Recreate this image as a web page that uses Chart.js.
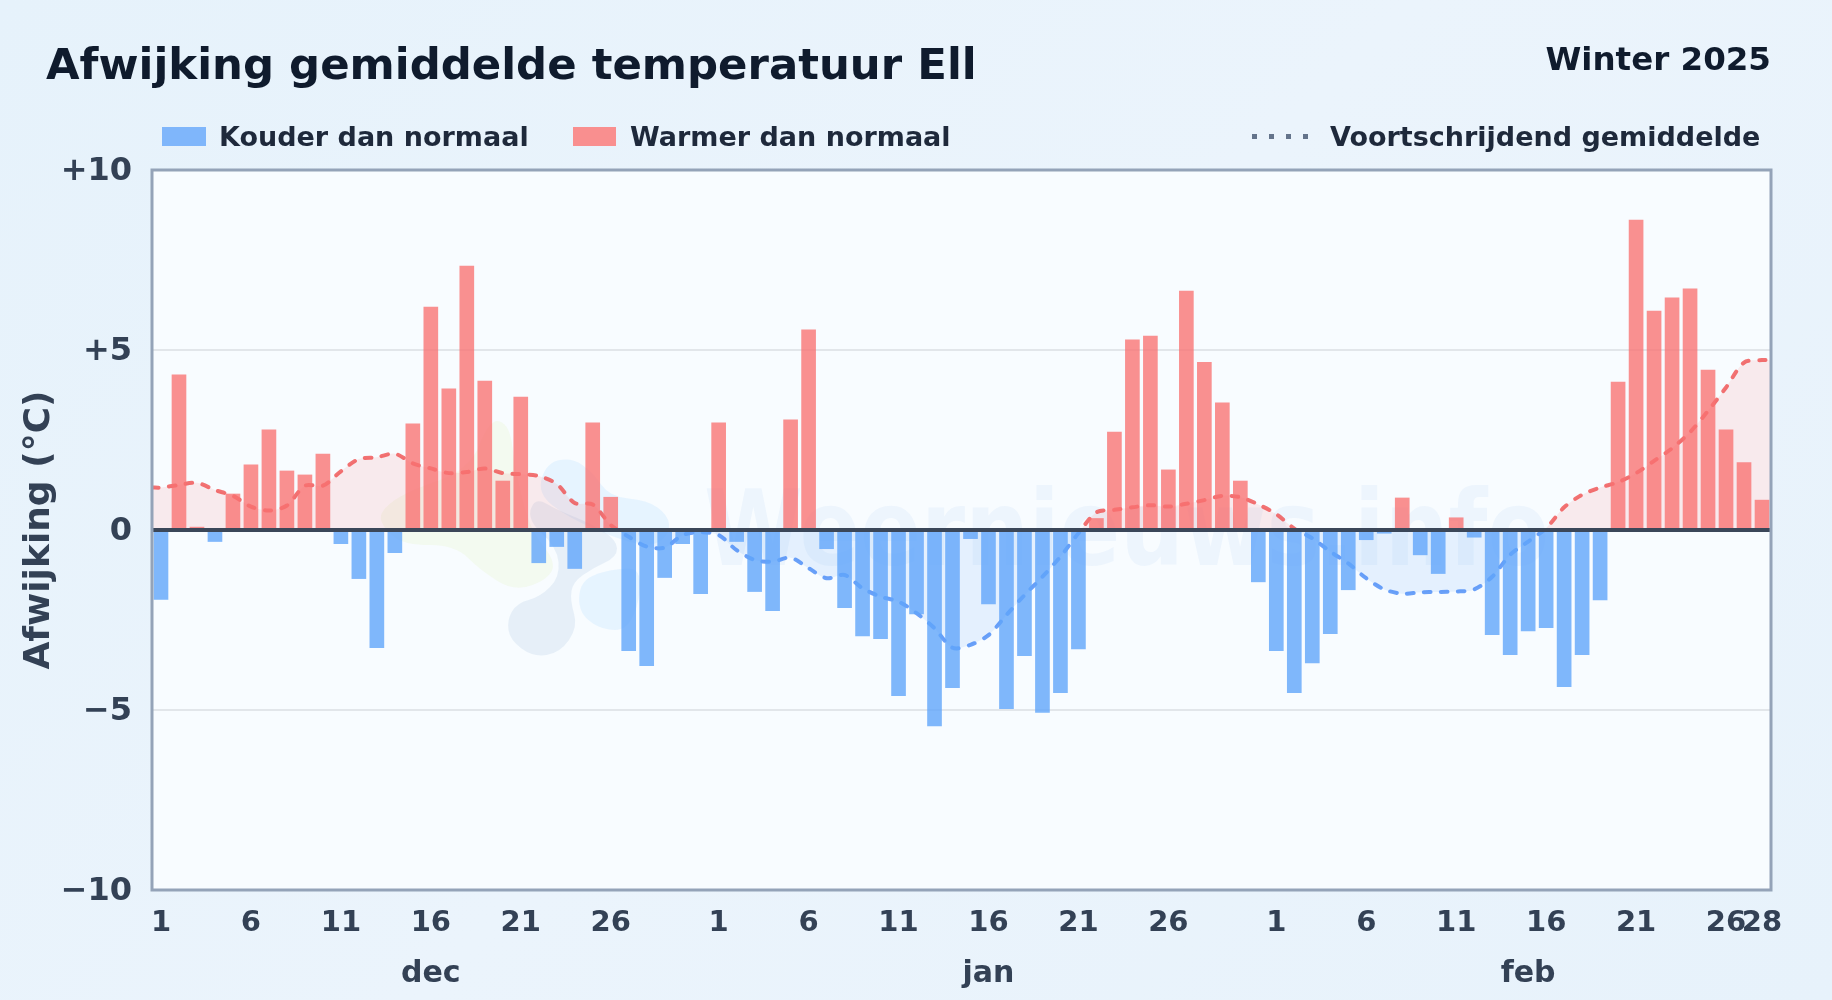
<!DOCTYPE html>
<html>
<head>
<meta charset="utf-8">
<title>Afwijking gemiddelde temperatuur Ell</title>
<script src="https://cdn.jsdelivr.net/npm/chart.js@4/dist/chart.umd.min.js"></script>
<style>
html, body { margin: 0; padding: 0; }
body {
    width: 1832px; height: 1000px; overflow: hidden; position: relative;
    background: linear-gradient(135deg, #e6f2fb 0%, #ebf4fc 50%, #e7f2fb 100%);
    font-family: "DejaVu Sans", sans-serif; font-weight: bold;
}
canvas { position: absolute; left: 0; top: 0; }
.txt { position: absolute; white-space: nowrap; line-height: 1; }
#title { left: 46px; top: 43px; font-size: 43.4px; color: #0f1b2d; }
#season { right: 61px; top: 43px; font-size: 32.5px; color: #0f1b2d; }
.lg { top: 123px; font-size: 27px; color: #1e293b; }
.swatch { position: absolute; top: 127px; height: 19px; }
#dots { position: absolute; left: 1252px; top: 134px; width: 57px; height: 5px;
    background: repeating-linear-gradient(90deg, #64748b 0 5px, transparent 5px 17px); }
</style>
</head>
<body>
<canvas id="afwijkingChart" width="1832" height="1000"></canvas>
<div class="txt" id="title">Afwijking gemiddelde temperatuur Ell</div>
<div class="txt" id="season">Winter 2025</div>
<div class="swatch" style="left:162px;width:44px;background:#7fb6fb"></div>
<div class="txt lg" style="left:219px">Kouder dan normaal</div>
<div class="swatch" style="left:573px;width:43px;background:#f98f8f"></div>
<div class="txt lg" style="left:630px">Warmer dan normaal</div>
<div id="dots"></div>
<div class="txt lg" style="left:1330px">Voortschrijdend gemiddelde</div>
<script>
// afwijking per dag, 1 dec t/m 28 feb
const decValues = [-1.93, 4.31, 0.08, -0.32, 1.0, 1.81, 2.78, 1.64, 1.53, 2.11, -0.38, -1.35, -3.27, -0.63, 2.95, 6.19,
    3.92, 7.33, 4.14, 1.36, 3.69, -0.91, -0.46, -1.07, 2.98, 0.91, -3.35, -3.77, -1.32, -0.38, -1.77];
const janValues = [2.98, -0.32, -1.71, -2.24, 3.06, 5.56, -0.52, -2.16, -2.94, -3.02, -4.6, -2.33, -5.44, -4.38, -0.24, -2.05,
    -4.96, -3.49, -5.07, -4.52, -3.3, 0.32, 2.72, 5.28, 5.39, 1.67, 6.64, 4.66, 3.53, 1.36, -1.44];
const febValues = [-3.35, -4.52, -3.69, -2.88, -1.66, -0.27, -0.09, 0.89, -0.69, -1.21, 0.34, -0.2, -2.91, -3.46,
    -2.8, -2.71, -4.35, -3.46, -1.94, 4.11, 8.61, 6.08, 6.45, 6.7, 4.44, 2.78, 1.87, 0.83];

// voortschrijdend gemiddelde
const decAvg = [1.18, 1.25, 1.31, 1.11, 0.95, 0.65, 0.54, 0.68, 1.23, 1.23, 1.63, 1.97, 2.02, 2.12, 1.85, 1.71,
    1.58, 1.61, 1.71, 1.58, 1.55, 1.5, 1.28, 0.75, 0.71, 0.14, -0.19, -0.46, -0.49, -0.14, -0.06];
const janAvg = [-0.14, -0.56, -0.83, -0.88, -0.77, -1.06, -1.34, -1.25, -1.62, -1.85, -1.99, -2.31, -2.73, -3.27, -3.19, -2.92,
    -2.36, -1.81, -1.3, -0.74, -0.09, 0.49, 0.56, 0.63, 0.69, 0.65, 0.73, 0.83, 0.95, 0.91, 0.71];
const febAvg = [0.44, 0.04, -0.23, -0.6, -0.93, -1.34, -1.65, -1.77, -1.73, -1.72, -1.71, -1.65, -1.3, -0.69,
    -0.32, 0.05, 0.63, 0.98, 1.18, 1.33, 1.58, 1.92, 2.27, 2.72, 3.31, 3.96, 4.65, 4.72];

const dayTicks = [1, 6, 11, 16, 21, 26, 32, 37, 42, 47, 52, 57, 63, 68, 73, 78, 83, 88, 90];
const dayTickLabels = ['1', '6', '11', '16', '21', '26', '1', '6', '11', '16', '21', '26', '1', '6', '11', '16', '21', '26', '28'];
const monthNames = ['dec', 'jan', 'feb'];
const monthCenters = [16, 47, 77];

const values = [...decValues, ...janValues, ...febValues];
const avg = [...decAvg, ...janAvg, ...febAvg];

const barPoints = values.map((v, i) => ({ x: i + 1, y: v }));
const avgPoints = avg.map((v, i) => ({ x: i + 1, y: v }));
avgPoints.unshift({ x: 0.5, y: avg[0] });
avgPoints.push({ x: 90.5, y: avg[avg.length - 1] });

// logo en tekst op de achtergrond
const watermark = {
    id: 'watermark',
    beforeDatasetsDraw(chart) {
        const ctx = chart.ctx;
        const a = chart.chartArea;
        ctx.save();
        ctx.beginPath();
        ctx.rect(a.left, a.top, a.width, a.height);
        ctx.clip();
        ctx.font = 'bold 105px "DejaVu Sans"';
        ctx.fillStyle = 'rgba(100,150,220,0.07)';
        ctx.textBaseline = 'alphabetic';
        ctx.fillText('Weernieuws.info', 704, 565, 845);
        blob(ctx, 'rgba(230,245,200,0.28)', [[378, 513], [405, 492], [470, 470], [490, 418], [510, 425], [515, 470], [530, 530], [555, 560], [550, 578], [515, 592], [480, 570], [455, 545], [405, 545], [385, 530]]);
        blob(ctx, 'rgba(190,225,255,0.30)', [[537, 493], [547, 462], [573, 458], [593, 473], [610, 497], [647, 500], [668, 515], [670, 533], [653, 547], [620, 540], [567, 517]]);
        blob(ctx, 'rgba(170,195,225,0.22)', [[507, 620], [517, 603], [540, 597], [560, 577], [557, 547], [527, 520], [535, 497], [557, 510], [590, 523], [617, 540], [617, 557], [593, 568], [573, 582], [570, 600], [578, 627], [560, 653], [533, 657], [510, 640]]);
        blob(ctx, 'rgba(190,225,255,0.30)', [[578, 600], [582, 582], [597, 573], [623, 568], [640, 570], [640, 600], [627, 630], [603, 630], [583, 617]]);
        ctx.restore();
    }
};

function blob(ctx, color, pts) {
    ctx.fillStyle = color;
    ctx.beginPath();
    const n = pts.length;
    ctx.moveTo((pts[n - 1][0] + pts[0][0]) / 2, (pts[n - 1][1] + pts[0][1]) / 2);
    for (let i = 0; i < n; i++) {
        const q = pts[(i + 1) % n];
        ctx.quadraticCurveTo(pts[i][0], pts[i][1], (pts[i][0] + q[0]) / 2, (pts[i][1] + q[1]) / 2);
    }
    ctx.fill();
}

// maandnamen onder de as
const monthLabels = {
    id: 'monthLabels',
    afterDraw(chart) {
        const ctx = chart.ctx;
        const x = chart.scales.x;
        ctx.save();
        ctx.font = 'bold 30px "DejaVu Sans"';
        ctx.fillStyle = '#334155';
        ctx.textAlign = 'center';
        ctx.textBaseline = 'middle';
        monthNames.forEach((m, i) => ctx.fillText(m, x.getPixelForValue(monthCenters[i]), 974));
        ctx.restore();
    }
};

function lineColor(context) {
    const { chart } = context;
    if (!chart.chartArea) return '#ef4444';
    const y = chart.scales.y;
    const g = chart.ctx.createLinearGradient(0, y.top, 0, y.bottom);
    const stop = (y.getPixelForValue(0) - y.top) / (y.bottom - y.top);
    g.addColorStop(0, 'rgba(239,68,68,0.75)');
    g.addColorStop(stop, 'rgba(239,68,68,0.75)');
    g.addColorStop(stop, 'rgba(59,130,246,0.75)');
    g.addColorStop(1, 'rgba(59,130,246,0.75)');
    return g;
}

new Chart(document.getElementById('afwijkingChart'), {
    type: 'bar',
    data: {
        datasets: [
            {
                type: 'line',
                data: [{ x: 0.5, y: 0 }, { x: 90.5, y: 0 }],
                borderColor: '#3b4759',
                borderWidth: 4,
                pointRadius: 0,
                order: 0
            },
            {
                label: 'Afwijking',
                data: barPoints,
                backgroundColor: values.map(v => v < 0 ? 'rgba(96,165,250,0.8)' : 'rgba(248,113,113,0.78)'),
                barThickness: 14,
                grouped: false,
                order: 1
            },
            {
                type: 'line',
                label: 'Voortschrijdend gemiddelde',
                data: avgPoints,
                borderColor: lineColor,
                borderWidth: 4,
                borderDash: [6.5, 10.5],
                borderCapStyle: 'round',
                tension: 0.3,
                pointRadius: 0,
                fill: { target: { value: 0 }, above: 'rgba(248,113,113,0.13)', below: 'rgba(96,165,250,0.13)' },
                order: 2
            }
        ]
    },
    options: {
        responsive: false,
        animation: false,
        devicePixelRatio: 1,
        layout: { padding: { top: 170, right: 61, left: 0, bottom: 0 } },
        plugins: {
            legend: { display: false },
            tooltip: { enabled: false }
        },
        scales: {
            x: {
                type: 'linear',
                min: 0.5,
                max: 90.5,
                offset: false,
                grid: { display: false },
                border: { display: false },
                afterFit(scale) { scale.height = 110; },
                afterBuildTicks(scale) { scale.ticks = dayTicks.map(v => ({ value: v })); },
                ticks: {
                    autoSkip: false,
                    maxRotation: 0,
                    padding: 8,
                    color: '#334155',
                    font: { family: 'DejaVu Sans', size: 29, weight: 'bold' },
                    callback: (v) => dayTickLabels[dayTicks.indexOf(v)]
                }
            },
            y: {
                min: -10,
                max: 10,
                afterFit(scale) { scale.width = 152; },
                grid: {
                    drawTicks: false,
                    color: '#e2e6ea',
                    lineWidth: 2
                },
                border: { display: false },
                title: {
                    display: true,
                    text: 'Afwijking (°C)',
                    color: '#334155',
                    padding: { top: 18, bottom: 0 },
                    font: { family: 'DejaVu Sans', size: 36, weight: 'bold' }
                },
                ticks: {
                    stepSize: 5,
                    padding: 20,
                    labelOffset: 2,
                    color: '#334155',
                    font: { family: 'DejaVu Sans', size: 32, weight: 'bold' },
                    callback: v => v > 0 ? '+' + v : (v < 0 ? '\u2212' + Math.abs(v) : '0')
                }
            }
        }
    },
    plugins: [
        {
            id: 'plotBackground',
            beforeDraw(chart) {
                const a = chart.chartArea;
                chart.ctx.fillStyle = '#f8fcff';
                chart.ctx.fillRect(a.left, a.top, a.width, a.height);
            },
            afterDatasetsDraw(chart) {
                const a = chart.chartArea;
                chart.ctx.strokeStyle = '#94a3b8';
                chart.ctx.lineWidth = 3;
                chart.ctx.strokeRect(a.left, a.top, a.width, a.height);
            }
        },
        watermark,
        monthLabels
    ]
});
</script>
</body>
</html>
